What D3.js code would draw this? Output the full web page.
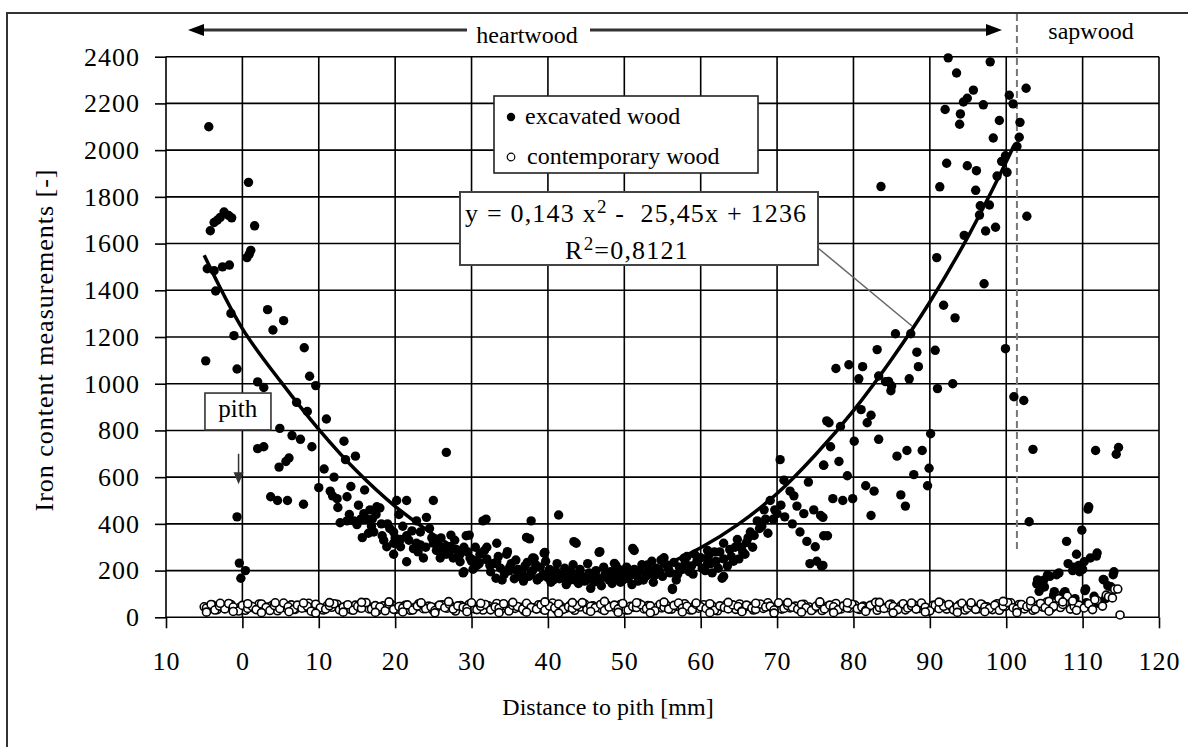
<!DOCTYPE html>
<html>
<head>
<meta charset="utf-8">
<script src="https://cdn.jsdelivr.net/npm/d3@7"></script>
<style>
body { margin: 0; background: #fff; }
text { font-family: "Liberation Serif", "Times New Roman", serif; fill: #000; }
</style>
</head>
<body>
<svg id="chart" width="1188" height="747"></svg>
<script>
/* iron content vs distance to pith */
const svg = d3.select('#chart');

const xTicks = [-10, 0, 10, 20, 30, 40, 50, 60, 70, 80, 90, 100, 110, 120];
const yTicks = [0, 200, 400, 600, 800, 1000, 1200, 1400, 1600, 1800, 2000, 2200, 2400];

// excavated wood (filled markers)
const excavated = [
  [-4.4,2100],[0.8,1862],[1.6,1676],[-4.2,1655],[-3.7,1690],[-3.3,1700],[-2.9,1712],[-2.4,1735],[-1.8,1720],[-1.4,1710],
  [0.9,1555],[1.1,1571],[0.6,1540],[-4.6,1492],[-3.7,1484],[-2.6,1500],[-1.7,1508],[-3.5,1397],[-1.5,1301],[-1.1,1206],
  [-4.8,1098],[-0.7,1063],[3.3,1317],[5.4,1270],[4.0,1230],[8.1,1154],[2.0,1008],[2.8,984],[8.8,1032],[9.6,992],
  [7.1,920],[8.5,881],[11.0,849],[4.9,809],[6.5,778],[7.6,762],[9.1,730],[2.0,722],[2.8,730],[13.3,754],
  [14.8,690],[13.5,675],[26.7,706],[5.7,667],[4.8,643],[6.1,682],[10.7,635],[10.0,555],[11.5,540],[12.4,508],
  [13.7,516],[3.7,516],[4.6,500],[5.9,500],[8.0,484],[-0.7,430],[12.8,405],[14.6,413],[15.9,444],[16.7,460],
  [17.6,473],[18.0,468],[15.7,341],[17.2,365],[18.3,349],[19.8,317],[20.7,302],[21.5,238],[19.8,270],[18.9,302],
  [20.2,500],[21.5,500],[25.0,500],[22.8,413],[24.1,428],[23.3,365],[22.8,317],[23.7,254],[25.0,317],[26.3,286],
  [27.2,302],[27.6,254],[28.5,270],[29.3,349],[28.9,190],[30.2,206],[31.5,413],[31.1,270],[32.4,222],[33.3,238],
  [-0.4,232],[0.4,200],[-0.2,167],
  [13.7,413],[15.0,397],[16.3,420],[19.8,365],[20.7,333],[21.5,349],[22.4,294],[23.3,310],[25.4,286],[25.9,254],
  [26.7,270],[28.5,238],[29.8,254],[30.7,222],[31.7,286],[32.8,230],[14.2,560],[16.0,545],[12.0,600],[15.2,480],
  [17.0,420],[19.0,400],[20.5,440],[24.5,380],[26.0,340],[27.8,330],[29.0,300],[18.5,330],[16.9,390],
  [31.9,420],[37.8,413],[37.2,342],[41.4,438],[43.4,324],[46.8,281],[51.1,295],[29.7,352],[27.3,352],[29.0,195],
  [31.2,274],[33.2,167],[34.7,281],[34.9,199],[38.2,253],[39.5,274],[40.8,181],[42.6,152],[45.6,124],[48.7,231],
  [53.0,224],[54.8,245],[56.3,124],[57.8,253],[59.0,185],[62.8,167],[60.9,231],[37.6,336],[43.7,317],[46.7,278],
  [48.9,222],[51.3,286],[33.3,317],[34.6,270],[39.6,278],[38.0,254],[56.3,119],[63.0,175],
  [33.8,210],[34.3,185],[35.2,230],[35.6,165],[36.1,205],[36.6,190],[37.0,220],[37.5,175],[38.0,200],[38.6,160],
  [39.0,215],[39.4,185],[40.0,170],[40.4,150],[41.0,200],[41.5,165],[42.0,180],[42.4,140],[43.0,195],[43.5,160],
  [44.0,145],[44.5,175],[45.0,160],[45.4,190],[46.0,150],[46.5,170],[47.0,135],[47.5,185],[48.0,160],[48.4,145],
  [49.0,175],[49.5,150],[50.0,190],[50.5,165],[51.0,140],[51.6,180],[52.0,200],[52.5,160],[53.4,185],[53.8,150],
  [54.2,210],[55.0,175],[55.5,225],[56.0,190],[56.8,160],[57.2,215],[58.0,230],[58.5,195],[59.5,240],[60.2,210],
  [61.0,260],[61.5,190],[62.0,240],[62.5,280],[63.5,220],[64.0,260],[64.5,300],[65.0,250],
  [32.0,250],[32.5,195],[33.5,260],[34.0,160],[35.0,215],[35.8,245],[36.3,175],[36.8,155],[37.3,235],[37.8,190],
  [38.4,225],[38.9,170],[39.7,240],[40.2,205],[40.7,160],[41.2,230],[41.8,185],[42.2,210],[42.8,170],[43.3,225],
  [43.8,185],[44.2,205],[44.8,155],[45.2,230],[45.8,175],[46.3,200],[46.8,160],[47.3,215],[47.8,175],[48.2,195],
  [48.7,165],[49.3,205],[49.8,160],[50.3,215],[50.8,180],[51.3,205],[51.8,155],[52.3,225],[52.8,175],[53.2,210],
  [53.6,240],[54.0,180],[54.6,200],[55.2,255],[55.8,205],[56.5,235],[57.0,185],[57.6,205],[58.2,260],[58.8,220],
  [59.2,270],[60.0,255],[60.6,200],[61.3,230],[61.8,280],[62.3,210],[63.0,250],[63.8,290],[64.3,240],[65.3,300],
  [65.8,270],[66.2,340],[66.8,300],[67.7,380],[68.5,420],[69.7,460],[17.5,440],[18.2,400],[19.3,380],[20.0,340],
  [21.0,390],[21.8,330],[22.2,370],[23.0,280],[24.0,300],[24.8,340],[25.6,320],[26.4,300],[27.0,280],[28.0,290],
  [29.5,280],[30.0,240],[30.5,300],[31.0,230],[32.0,300],[14.0,440],[15.5,420],[16.5,360],[12.5,470],[11.8,520],
  [59.6,238],[60.9,286],[63.0,317],[64.8,333],[66.5,365],[67.4,413],[68.3,460],[69.1,500],[70.0,444],[70.9,587],
  [70.4,675],[71.7,540],[72.6,476],[73.5,444],[74.1,579],[74.8,460],[75.7,436],[73.0,365],[73.9,325],[75.0,302],
  [74.3,230],[76.1,651],[76.5,841],[76.1,349],[66.0,320],[67.0,350],[68.0,390],[69.5,420],[71.0,430],[72.0,400],
  [65.5,280],[68.8,360],[70.5,480],[72.2,520],[75.2,240],[75.8,220],
  [92.4,2395],[97.9,2378],[93.5,2330],[95.7,2257],[94.9,2222],[94.4,2206],[97.0,2194],[92.0,2174],[94.0,2155],[93.9,2111],
  [99.1,2127],[98.3,2052],[100.4,2235],[100.9,2198],[102.6,2265],[101.8,2119],[101.7,2055],[101.4,2016],[99.9,1976],[100.1,1905],
  [98.8,1889],[99.4,1952],[92.2,1944],[94.9,1933],[96.1,1912],[91.3,1843],[96.0,1828],[83.6,1844],[102.7,1717],[97.8,1765],
  [96.5,1722],[97.3,1654],[98.6,1670],[94.5,1635],[90.9,1540],[97.1,1428],[91.8,1336],[93.3,1282],[85.5,1214],[87.5,1214],
  [99.9,1150],[83.1,1146],[88.3,1135],[90.7,1143],[88.5,1073],[77.7,1065],[79.4,1081],[81.2,1073],[80.7,1021],[83.3,1033],
  [84.2,1009],[84.9,970],[87.3,1021],[91.0,979],[93.0,1000],[101.0,944],[102.3,928],[76.8,833],[78.3,817],[81.0,889],
  [82.3,865],[81.8,833],[80.1,754],[83.3,762],[90.1,786],[77.0,730],[76.1,651],[78.1,667],[85.7,690],[87.0,714],
  [89.0,714],[89.9,638],[87.9,611],[89.7,563],[79.2,606],[81.6,563],[82.7,540],[86.2,524],[86.8,476],[82.3,436],
  [77.3,508],[78.6,500],[79.9,508],[76.0,428],[76.6,349],[76.0,222],[103.5,719],[103.0,409],[111.7,714],[114.7,727],
  [114.4,698],[84.6,1010],[85.0,990],[96.6,1762],
  [110.7,463],[109.9,373],[107.9,325],[109.2,270],[111.8,262],[108.1,230],[108.8,214],[109.5,222],[110.2,238],[111.0,254],
  [112.7,162],[114.0,182],[113.3,135],[104.0,143],[104.9,159],[105.7,175],[106.6,182],[104.3,111],[106.2,95],[107.5,103],
  [107.1,63],[108.3,48],[110.3,114],[110.5,63],[110.8,473],[111.9,275],[104.1,160],[105.4,181],[106.9,190],[106.3,110],
  [107.7,110],[110.4,121],[114.1,195],[112.8,160],[113.7,131],[108.7,200],[109.6,195],[110.0,205],[105.0,130],[112.0,60],
  [113.0,80],[109.0,80],[111.5,90]
];

// contemporary wood (open markers)
const contempX = [-5.0,-4.4,-3.9,-3.3,-2.6,-2.1,-1.5,-0.8,-0.3,0.4,1.0,1.5,2.2,2.8,3.3,3.9,4.6,5.1,5.7,6.4,
  6.9,7.5,8.2,8.7,9.3,9.9,10.6,11.1,11.7,12.4,12.9,13.5,14.2,14.8,15.3,15.9,16.6,17.1,17.7,18.4,
  18.9,19.5,20.2,20.7,21.3,22.0,22.6,23.1,23.7,24.4,24.9,25.5,26.2,26.8,27.3,27.9,28.6,29.1,29.7,30.4,
  30.9,31.5,32.2,32.8,33.3,33.9,34.6,35.1,35.7,36.4,36.9,37.5,38.2,38.8,39.3,39.9,40.6,41.1,41.7,42.4,
  42.9,43.5,44.2,44.8,45.3,45.9,46.6,47.1,47.7,48.4,48.9,49.5,50.2,50.8,51.3,51.9,52.6,53.1,53.7,54.4,
  54.9,55.5,56.2,56.8,57.3,57.9,58.6,59.1,59.7,60.4,60.9,61.5,62.2,62.8,63.3,63.9,64.6,65.1,65.7,66.4,
  66.9,67.5,68.2,68.8,69.3,69.9,70.6,71.1,71.7,72.4,72.9,73.5,74.2,74.8,75.3,75.9,76.6,77.1,77.7,78.4,
  78.9,79.5,80.2,80.8,81.3,81.9,82.6,83.1,83.7,84.4,84.9,85.5,86.2,86.8,87.3,87.9,88.6,89.1,89.7,90.4,
  90.9,91.5,92.2,92.8,93.3,93.9,94.6,95.1,95.7,96.4,96.9,97.5,98.2,98.8,99.3,99.9,100.6,101.1,101.7,102.4,
  102.9,103.5,104.2,104.8,105.3,105.9,106.6,107.1,107.7,108.4,108.9,109.5,110.2,110.8,111.3,111.9,112.6,113.1,114.2,114.9];
const contempY = [45,38,52,33,47,41,55,36,43,30, 49,40,57,35,44,51,28,46,39,53,
  34,48,42,60,37,45,31,50,43,56, 38,47,33,52,41,62,36,44,29,49,
  40,55,35,46,51,30,43,58,37,48, 32,45,53,39,47,27,50,42,56,36,
  44,31,49,40,59,35,46,52,38,43, 28,48,41,54,36,45,61,33,47,39,
  51,30,44,57,37,49,42,34,53,46, 38,55,31,47,43,60,36,50,29,45,
  40,52,35,48,44,58,32,46,39,54, 37,49,28,45,53,41,34,57,43,47,
  31,50,38,62,42,46,35,53,40,48, 33,56,44,37,51,29,47,42,59,36,
  45,39,52,34,48,43,55,30,46,41, 57,36,49,32,44,53,38,47,27,51,
  42,60,35,46,40,54,31,48,43,37, 52,45,33,58,39,47,62,41,55,36,
  48,30,53,44,65,38,50,42,57,35, 46,52,40,58,33,72,48,95,120,10];
const contempX2 = [-4.7,-4.1,-3.6,-3.0,-2.3,-1.8,-1.2,-0.5,0.0,0.7, 1.3,1.8,2.5,3.1,3.6,4.2,4.9,5.4,6.0,6.7,
  7.2,7.8,8.5,9.0,9.6,10.2,10.9,11.4,12.0,12.7, 13.2,13.8,14.5,15.1,15.6,16.2,16.9,17.4,18.0,18.7,
  19.2,19.8,20.5,21.0,21.6,22.3,22.9,23.4,24.0,24.7, 25.2,25.8,26.5,27.1,27.6,28.2,28.9,29.4,30.0,30.7,
  31.2,31.8,32.5,33.1,33.6,34.2,34.9,35.4,36.0,36.7, 37.2,37.8,38.5,39.1,39.6,40.2,40.9,41.4,42.0,42.7,
  43.2,43.8,44.5,45.1,45.6,46.2,46.9,47.4,48.0,48.7, 49.2,49.8,50.5,51.1,51.6,52.2,52.9,53.4,54.0,54.7,
  55.2,55.8,56.5,57.1,57.6,58.2,58.9,59.4,60.0,60.7, 61.2,61.8,62.5,63.1,63.6,64.2,64.9,65.4,66.0,66.7,
  67.2,67.8,68.5,69.1,69.6,70.2,70.9,71.4,72.0,72.7, 73.2,73.8,74.5,75.1,75.6,76.2,76.9,77.4,78.0,78.7,
  79.2,79.8,80.5,81.1,81.6,82.2,82.9,83.4,84.0,84.7, 85.2,85.8,86.5,87.1,87.6,88.2,88.9,89.4,90.0,90.7,
  91.2,91.8,92.5,93.1,93.6,94.2,94.9,95.4,96.0,96.7, 97.2,97.8,98.5,99.1,99.6,100.2,100.9,101.4,102.0,102.7,
  103.2,103.8,104.5,105.1,105.6,106.2,106.9,107.4,108.0,108.7, 109.2,109.8,110.5,111.1,111.6,112.2,112.9,113.4,113.8,114.4];
const contempY2 = [40,55,31,48,36,59,44,27,51,38, 46,33,57,42,29,50,37,61,45,34,
  52,39,47,26,56,41,35,49,58,32, 43,54,30,47,39,63,36,50,44,28,
  57,34,46,40,53,31,48,60,37,45, 29,52,41,56,35,49,43,38,62,33,
  47,55,32,44,39,58,27,51,46,36, 60,42,35,53,30,48,40,57,34,45,
  38,50,63,33,47,41,55,29,44,52, 36,59,31,46,42,54,37,49,28,56,
  43,35,51,61,39,47,32,55,45,38, 58,30,49,42,36,53,46,27,52,40,
  34,57,44,48,31,62,38,50,43,35, 55,41,29,47,59,36,52,45,33,49,
  40,56,37,44,30,51,64,42,38,54, 46,33,58,40,49,35,61,43,28,52,
  37,47,55,32,45,60,39,50,34,57, 44,38,52,30,48,63,41,36,55,46,
  50,35,59,42,68,47,80,55,90,70];
const contempExtra = [[-4.7,22],[-2.9,60],[-1.2,25],[0.7,58],[2.5,20],[4.3,62],[6.1,24],[8.0,61],[9.6,18],[11.4,63],
  [13.2,22],[15.6,64],[17.4,21],[19.2,66],[21.0,23],[23.4,62],[25.2,19],[27.0,67],[29.4,24],[31.2,60],
  [33.6,20],[35.4,64],[37.2,22],[39.6,66],[41.4,18],[43.2,63],[45.6,25],[47.4,68],[49.2,21],[51.6,62],
  [53.4,19],[55.2,65],[57.6,23],[59.4,61],[61.2,20],[63.6,64],[65.4,24],[67.2,60],[69.6,18],[71.4,63],
  [73.2,22],[75.6,66],[77.4,20],[79.2,62],[81.6,25],[83.4,64],[85.2,19],[87.6,61],[89.4,23],[91.2,65],
  [93.6,21],[95.4,62],[97.2,24],[99.6,68],[101.4,20],[103.2,70],[105.6,26],[107.4,66],[109.2,30],[111.6,75],
  [113.4,88],[113.9,83],[114.6,121]];

// trend curve as drawn in the picture
const trendX = [-5, 0, 5, 10, 15, 20, 25, 30, 35, 40, 45, 50, 55, 60, 65, 70, 75, 80, 85, 90, 95, 100, 101];
const trendY = [1550, 1236, 1010, 805, 625, 475, 355, 262, 198, 163, 155, 175, 222, 298, 400, 530, 695, 885, 1105, 1350, 1630, 1950, 2020];

const x = d3.scaleLinear().domain([-10, 120]).range([166, 1159]);
const y = d3.scaleLinear().domain([0, 2400]).range([617.3, 56.7]);

// outer frame (cropped at right and bottom)
svg.append('rect').attr('x', 7).attr('y', 13).attr('width', 1220).attr('height', 800)
    .attr('fill', 'none').attr('stroke', '#333').attr('stroke-width', 2);

// grid
let grid = svg.append('g').attr('stroke', '#000').attr('stroke-width', 1.6);
grid.selectAll('.gx').data(xTicks).enter().append('line')
    .attr('x1', d => x(d)).attr('x2', d => x(d)).attr('y1', y(0)).attr('y2', y(2400));
grid.selectAll('.gy').data(yTicks).enter().append('line')
    .attr('x1', x(-10)).attr('x2', x(120)).attr('y1', d => y(d)).attr('y2', d => y(d));

// axes
let yAxis = svg.append('g').attr('transform', 'translate(' + x(-10) + ',0)')
    .call(d3.axisLeft(y).tickValues(yTicks).tickSize(11).tickPadding(15).tickFormat(d3.format('d')));
let xAxis = svg.append('g').attr('transform', 'translate(0,' + y(0) + ')')
    .call(d3.axisBottom(x).tickValues(xTicks).tickSize(11).tickPadding(23).tickFormat(d => Math.abs(d)));
[xAxis, yAxis].forEach(a => {
    a.attr('font-family', null);
    a.select('.domain').remove();
    a.selectAll('line').attr('stroke', '#000').attr('stroke-width', 1.6);
    a.selectAll('text').attr('font-size', 26).attr('letter-spacing', 1).attr('fill', '#000');
});

// sapwood border
svg.append('line').attr('x1', x(101.4)).attr('x2', x(101.4)).attr('y1', 14).attr('y2', 550)
    .attr('stroke', '#777').attr('stroke-width', 2).attr('stroke-dasharray', '7,4');

// points
svg.append('g').selectAll('circle').data(excavated).enter().append('circle')
    .attr('cx', d => x(d[0])).attr('cy', d => y(d[1])).attr('r', 4.7).attr('fill', '#000');
const contemporary = d3.zip(contempX, contempY).concat(d3.zip(contempX2, contempY2), contempExtra);
svg.append('g').selectAll('circle').data(contemporary).enter().append('circle')
    .attr('cx', d => x(d[0])).attr('cy', d => y(d[1])).attr('r', 4)
    .attr('fill', '#fff').attr('stroke', '#000').attr('stroke-width', 1.6);

// trend line
const line = d3.line().x(d => x(d[0])).y(d => y(d[1])).curve(d3.curveCatmullRom);
svg.append('path').attr('d', line(d3.zip(trendX, trendY)))
    .attr('fill', 'none').attr('stroke', '#000').attr('stroke-width', 3.5);

// heartwood arrow
const arrowY = 30;
svg.append('line').attr('x1', 200).attr('x2', 467).attr('y1', arrowY).attr('y2', arrowY)
    .attr('stroke', '#333').attr('stroke-width', 3);
svg.append('line').attr('x1', 590).attr('x2', 990).attr('y1', arrowY).attr('y2', arrowY)
    .attr('stroke', '#333').attr('stroke-width', 3);
svg.append('path').attr('d', 'M188,' + arrowY + 'L204,' + (arrowY - 6) + 'L204,' + (arrowY + 6) + 'Z').attr('fill', '#000');
svg.append('path').attr('d', 'M1002,' + arrowY + 'L986,' + (arrowY - 6) + 'L986,' + (arrowY + 6) + 'Z').attr('fill', '#000');
svg.append('text').attr('x', 527).attr('y', 43).attr('text-anchor', 'middle').attr('font-size', 24).text('heartwood');
svg.append('text').attr('x', 1091).attr('y', 39).attr('text-anchor', 'middle').attr('font-size', 24).text('sapwood');

// legend
svg.append('rect').attr('x', 494).attr('y', 96).attr('width', 264).attr('height', 77)
    .attr('fill', '#fff').attr('stroke', '#222').attr('stroke-width', 1.6);
svg.append('circle').attr('cx', 511).attr('cy', 117).attr('r', 4.2).attr('fill', '#000');
svg.append('text').attr('x', 525).attr('y', 124).attr('font-size', 24).text('excavated wood');
svg.append('circle').attr('cx', 511).attr('cy', 157).attr('r', 3.8).attr('fill', '#fff').attr('stroke', '#000').attr('stroke-width', 1.2);
svg.append('text').attr('x', 527).attr('y', 164).attr('font-size', 24).text('contemporary wood');

// equation box with leader line
svg.append('line').attr('x1', 818).attr('y1', 248).attr('x2', 912).attr('y2', 326)
    .attr('stroke', '#666').attr('stroke-width', 1.5);
svg.append('rect').attr('x', 460).attr('y', 192).attr('width', 358).attr('height', 73)
    .attr('fill', '#fff').attr('stroke', '#444').attr('stroke-width', 2);
let eq = svg.append('text').attr('x', 465).attr('y', 222).attr('font-size', 26)
    .attr('letter-spacing', 1.2).style('white-space', 'pre');
eq.append('tspan').text('y = 0,143 x');
eq.append('tspan').attr('dy', -9).attr('font-size', 19).text('2');
eq.append('tspan').attr('dy', 9).text(' -  25,45x + 1236');
let r2 = svg.append('text').attr('x', 627).attr('y', 259).attr('font-size', 26)
    .attr('letter-spacing', 1.2).attr('text-anchor', 'middle');
r2.append('tspan').text('R');
r2.append('tspan').attr('dy', -9).attr('font-size', 19).text('2');
r2.append('tspan').attr('dy', 9).text('=0,8121');

// pith label and arrow
svg.append('rect').attr('x', x(-4.9)).attr('y', y(960)).attr('width', 66).attr('height', y(802) - y(960))
    .attr('fill', '#fff').attr('stroke', '#333').attr('stroke-width', 1.6);
svg.append('text').attr('x', x(-0.6)).attr('y', 417).attr('text-anchor', 'middle').attr('font-size', 25).text('pith');
svg.append('line').attr('x1', x(-0.5)).attr('x2', x(-0.5)).attr('y1', y(700)).attr('y2', y(590))
    .attr('stroke', '#333').attr('stroke-width', 1.5);
svg.append('path').attr('d', 'M' + x(-0.5) + ',' + y(570) + 'l-5,-12l10,0Z').attr('fill', '#333');

// axis titles
svg.append('text').attr('x', 608).attr('y', 715).attr('text-anchor', 'middle').attr('font-size', 24)
    .text('Distance to pith [mm]');
svg.append('text').attr('transform', 'translate(53,340) rotate(-90)').attr('text-anchor', 'middle')
    .attr('font-size', 26).attr('letter-spacing', 1).text('Iron content measurements [-]');
</script>
</body>
</html>
